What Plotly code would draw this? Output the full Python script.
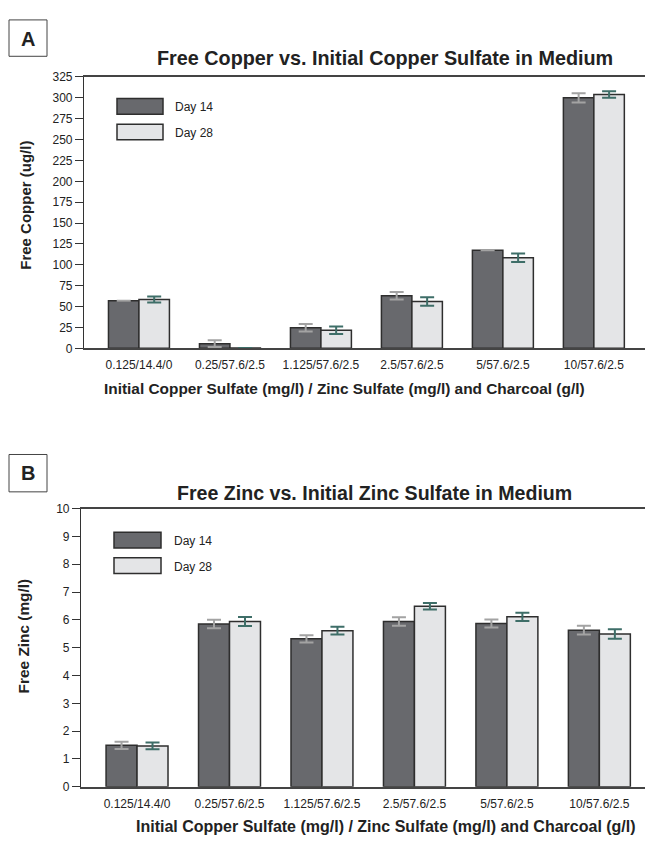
import plotly.graph_objects as go

# The page body has an 8px margin, so the figure is sized to fill the
# window from (8, 8) and all layout positions below are in window pixels.
OFF = 8
W, H = 653 - OFF, 842 - OFF

categories = ["0.125/14.4/0", "0.25/57.6/2.5", "1.125/57.6/2.5",
              "2.5/57.6/2.5", "5/57.6/2.5", "10/57.6/2.5"]

# Panel A: free copper (ug/l)
cu_day14 = [57, 5.5, 24.5, 63, 117.5, 300]
cu_day14_err = [None, 4, 4.5, 4.5, None, 5.5]
cu_day28 = [58.5, 0.5, 21.5, 56, 108.5, 304]
cu_day28_err = [3.5, None, 4.5, 5, 5, 4]

# Panel B: free zinc (mg/l)
zn_day14 = [1.49, 5.85, 5.32, 5.94, 5.87, 5.63]
zn_day14_err = [0.13, 0.15, 0.13, 0.15, 0.14, 0.16]
zn_day28 = [1.47, 5.94, 5.61, 6.49, 6.11, 5.49]
zn_day28_err = [0.12, 0.16, 0.14, 0.12, 0.15, 0.17]

series_names = ["Day 14", "Day 28"]
cu_ticks = list(range(0, 326, 25))
zn_ticks = list(range(0, 11, 1))

DARK = "#68696d"
LIGHT = "#e4e5e7"
OUTLINE = "#2e2e2e"
ERR14 = "#a3a3a3"
ERR28 = "#3e6e68"
FONT = "Liberation Sans, Arial, sans-serif"


def px(x):
    return (x - OFF) / W


def py(y):
    return 1 - (y - OFF) / H


fig = go.Figure()


def add_bars(vals, errs, name, fill, errc, xa, ya):
    fig.add_trace(go.Bar(
        x=categories, y=vals, name=name, xaxis=xa, yaxis=ya,
        marker=dict(color=fill, line=dict(color=OUTLINE, width=1.5)),
        error_y=dict(type="data", array=errs, visible=True, color=errc,
                     thickness=2, width=7),
        showlegend=False,
    ))


add_bars(cu_day14, cu_day14_err, series_names[0], DARK, ERR14, "x", "y")
add_bars(cu_day28, cu_day28_err, series_names[1], LIGHT, ERR28, "x", "y")
add_bars(zn_day14, zn_day14_err, series_names[0], DARK, ERR14, "x2", "y2")
add_bars(zn_day28, zn_day28_err, series_names[1], LIGHT, ERR28, "x2", "y2")

tickfont = dict(family=FONT, size=12, color="#222")

xcommon = dict(type="category", showline=True, mirror=True,
               linecolor="#444", linewidth=1.5, ticks="outside", ticklen=5,
               tickcolor="rgba(0,0,0,0)", showgrid=False,
               tickfont=tickfont, zeroline=False)
ycommon = dict(ticks="outside", ticklen=8, tickcolor="#333", showline=True,
               linecolor="#333", linewidth=1.2, showgrid=False,
               zeroline=False, tickfont=tickfont)

fig.update_layout(
    width=W, height=H,
    margin=dict(l=0, r=0, t=0, b=0),
    paper_bgcolor="white", plot_bgcolor="white",
    barmode="group", bargap=0.33, bargroupgap=0,
    font=dict(family=FONT, color="#222"),
    xaxis=dict(domain=[px(84), 1], anchor="y", range=[-0.604, 5.65],
               **xcommon),
    yaxis=dict(domain=[py(347), py(71)], anchor="x", range=[0, 325],
               tickvals=cu_ticks, **ycommon),
    xaxis2=dict(domain=[px(81), 1], anchor="y2", range=[-0.606, 5.58],
                **xcommon),
    yaxis2=dict(domain=[py(793), py(510)], anchor="x2", range=[0, 10],
                tickvals=zn_ticks, **ycommon),
)

shapes = []
annotations = []


def ann(text, x, y, size, bold=False, angle=0, xanchor="center"):
    annotations.append(dict(
        text=f"<b>{text}</b>" if bold else text,
        x=px(x), y=py(y), xref="paper", yref="paper",
        xanchor=xanchor, yanchor="middle", showarrow=False,
        textangle=angle, font=dict(family=FONT, size=size, color="#222"),
    ))


def rect(x0, y0, x1, y1, fill, lw=1.2, lc=OUTLINE):
    shapes.append(dict(type="rect", xref="paper", yref="paper",
                       x0=px(x0), x1=px(x1), y0=py(y1), y1=py(y0),
                       fillcolor=fill, line=dict(color=lc, width=lw)))


# Panel letters
rect(9, 13, 47, 50, "white", lw=1, lc="#444")
ann("A", 28, 32, 20, bold=True)
rect(9, 455, 47, 493, "white", lw=1, lc="#444")
ann("B", 28, 474, 20, bold=True)

# Titles
ann("Free Copper vs. Initial Copper Sulfate in Medium", 385, 52, 19.8, bold=True)
ann("Free Zinc vs. Initial Zinc Sulfate in Medium", 374, 494, 19.6, bold=True)

# Axis titles
xt = "Initial Copper Sulfate (mg/l) / Zinc Sulfate (mg/l) and Charcoal (g/l)"
ann(xt, 344, 388, 15.4, bold=True)
ann(xt, 386, 833, 16, bold=True)
ann("Free Copper (ug/l)", 26, 202, 15, bold=True, angle=-90)
ann("Free Zinc (mg/l)", 23, 640, 15.4, bold=True, angle=-90)

# Legends
rect(117, 93, 163, 109, DARK, lw=1.5)
rect(117, 119, 163, 135, LIGHT, lw=1.5)
ann(series_names[0], 173, 102, 12, xanchor="left")
ann(series_names[1], 173, 128, 12, xanchor="left")
rect(114, 534, 161, 550, DARK, lw=1.5)
rect(114, 560, 161, 576, LIGHT, lw=1.5)
ann(series_names[0], 172, 543, 12, xanchor="left")
ann(series_names[1], 172, 569, 12, xanchor="left")

fig.update_layout(shapes=shapes, annotations=annotations)

fig.write_html("out.html")
